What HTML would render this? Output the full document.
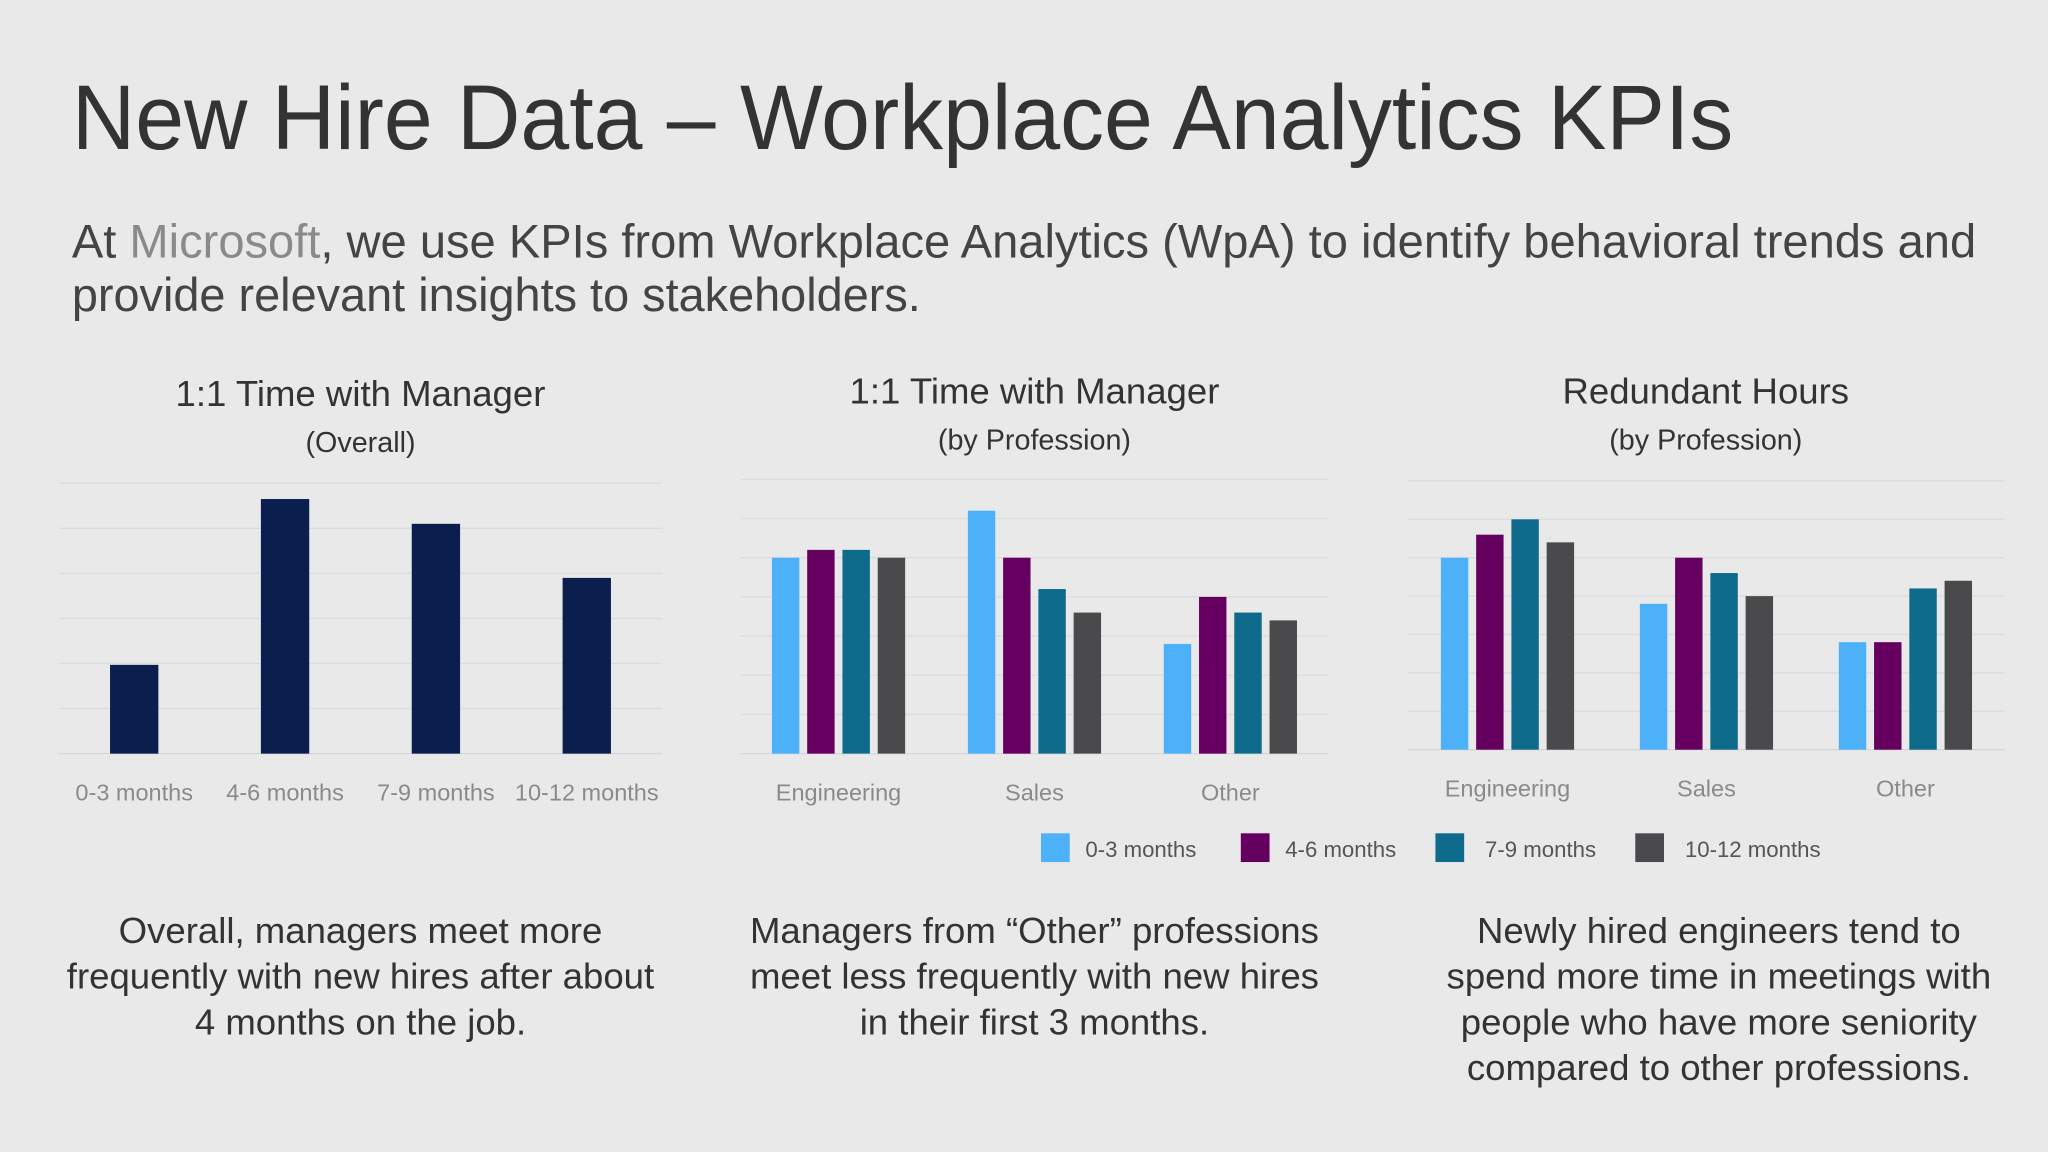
<!DOCTYPE html>
<html><head><meta charset="utf-8"><style>
html,body{margin:0;padding:0;background:#e9e9ea;}
svg{display:block;font-family:"Liberation Sans",sans-serif;}
</style></head><body>
<svg id="s" width="2048" height="1152" viewBox="0 0 1568 882" xmlns="http://www.w3.org/2000/svg">
<rect width="1568" height="882" fill="#e9e9ea"/>
<text x="55" y="114" font-size="70" fill="#333" textLength="1272" lengthAdjust="spacingAndGlyphs">New Hire Data – Workplace Analytics KPIs</text>
<text x="55" y="197" font-size="36" fill="#444" textLength="1458" lengthAdjust="spacingAndGlyphs">At <tspan fill="#8a8a8a">Microsoft</tspan>, we use KPIs from Workplace Analytics (WpA) to identify behavioral trends and</text>
<text x="55" y="238" font-size="36" fill="#444" textLength="650" lengthAdjust="spacingAndGlyphs">provide relevant insights to stakeholders.</text>
<g id="charts"></g>
<g font-size="17" fill="#555">
<rect x="797" y="638" width="22" height="22" fill="#4db1f9"/><text x="831" y="656">0-3 months</text>
<rect x="950" y="638" width="22" height="22" fill="#650060"/><text x="984" y="656">4-6 months</text>
<rect x="1099" y="638" width="22" height="22" fill="#0f6b8c"/><text x="1137" y="656">7-9 months</text>
<rect x="1252" y="638" width="22" height="22" fill="#4a4a4c"/><text x="1290" y="656">10-12 months</text>
</g>
<g font-size="28" fill="#333" text-anchor="middle">
<text x="276" y="722">Overall, managers meet more</text>
<text x="276" y="757">frequently with new hires after about</text>
<text x="276" y="792">4 months on the job.</text></g>
<g font-size="28" fill="#333" text-anchor="middle">
<text x="792" y="722">Managers from “Other” professions</text>
<text x="792" y="757">meet less frequently with new hires</text>
<text x="792" y="792">in their first 3 months.</text></g>
<g font-size="28" fill="#333" text-anchor="middle">
<text x="1316" y="722">Newly hired engineers tend to</text>
<text x="1316" y="757">spend more time in meetings with</text>
<text x="1316" y="792">people who have more seniority</text>
<text x="1316" y="827">compared to other professions.</text></g>
</svg>
<script>
const periods=["0-3 months","4-6 months","7-9 months","10-12 months"];
const overallValues=[1.97,5.65,5.1,3.9];
const professions=["Engineering","Sales","Other"];
const oneOnOneByProf=[[5.0,5.2,5.2,5.0],[6.2,5.0,4.2,3.6],[2.8,4.0,3.6,3.4]];
const redundantByProf=[[5.0,5.6,6.0,5.4],[3.8,5.0,4.6,4.0],[2.8,2.8,4.2,4.4]];
const colors=["#4db1f9","#650060","#0f6b8c","#4a4a4c"];
const NS="http://www.w3.org/2000/svg";
const root=document.getElementById('charts');
function mk(tag,attrs,parent){const e=document.createElementNS(NS,tag);for(const k in attrs)e.setAttribute(k,attrs[k]);parent.appendChild(e);return e;}
function chart(cfg){
  const g=mk('g',{},root);
  
  
  const y=v=>cfg.base-v*cfg.unit;
  for(let i=1;i<=cfg.grids;i++){const l=mk('line',{x1:cfg.x0,x2:cfg.x1,y1:y(i),y2:y(i),stroke:'#dcdcde','stroke-width':1},g);
    }
  const ax=mk('line',{x1:cfg.x0,x2:cfg.x1,y1:cfg.base,y2:cfg.base,stroke:'#d6d6d8','stroke-width':1},g);
  
  const t=mk('text',{x:cfg.cx,y:cfg.ty,'font-size':28,fill:'#333','text-anchor':'middle'},g);t.textContent=cfg.title;
  
  const s=mk('text',{x:cfg.cx,y:cfg.ty+35,'font-size':22,fill:'#333','text-anchor':'middle'},g);s.textContent=cfg.sub;
  
  const n=cfg.cats.length,gw=(cfg.x1-cfg.x0)/n;
  cfg.cats.forEach((c,i)=>{
    const cx=cfg.x0+gw*(i+0.5);
    const vals=cfg.series?cfg.values[i]:[cfg.values[i]];
    const bw=cfg.series?21:37,gap=cfg.series?6:0;
    const tot=vals.length*bw+(vals.length-1)*gap;
    vals.forEach((v,j)=>{
      const r=mk('rect',{x:cx-tot/2+j*(bw+gap),y:y(v),width:bw,height:cfg.base-y(v),fill:cfg.series?colors[j]:'#0a1f4d'},g);
      
      
    });
    const l=mk('text',{x:cx,y:cfg.base+36,'font-size':18,fill:'#8a8a8a','text-anchor':'middle'},g);l.textContent=c;
    
  });
}
chart({name:'chart-overall',cats:periods,values:overallValues,series:false,x0:45,x1:507,base:577,unit:34.5,grids:6,cx:276,ty:311,title:'1:1 Time with Manager',sub:'(Overall)'});
chart({name:'chart-one-on-one-profession',cats:professions,values:oneOnOneByProf,series:true,x0:567,x1:1017,base:577,unit:30,grids:7,cx:792,ty:309,title:'1:1 Time with Manager',sub:'(by Profession)'});
chart({name:'chart-redundant-hours',cats:professions,values:redundantByProf,series:true,x0:1078,x1:1535,base:574,unit:29.4,grids:7,cx:1306,ty:309,title:'Redundant Hours',sub:'(by Profession)'});
</script>
</body></html>
